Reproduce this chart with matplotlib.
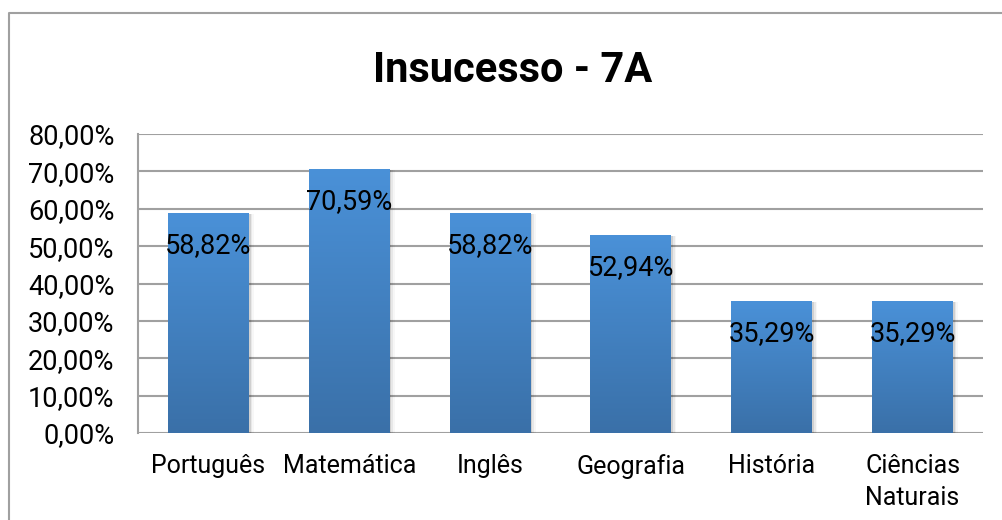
import numpy as np
import matplotlib
matplotlib.use("Agg")
import matplotlib.pyplot as plt
from matplotlib.lines import Line2D
from matplotlib.patches import Rectangle
from matplotlib.ticker import FuncFormatter

# Data
disciplinas = ["Português", "Matemática", "Inglês", "Geografia", "História", "Ciências\nNaturais"]
insucesso = [58.82, 70.59, 58.82, 52.94, 35.29, 35.29]   # %
y_ticks = [0, 10, 20, 30, 40, 50, 60, 70, 80]

plt.rcParams["font.family"] = ["Roboto", "DejaVu Sans"]

fig = plt.figure(figsize=(10.03, 5.20), dpi=100)
ax = fig.add_axes([138 / 1003, 1 - 433 / 520, (983 - 138) / 1003, (433 - 134) / 520])

x = np.arange(len(disciplinas))
bars = ax.bar(x, insucesso, width=0.575, color="none", zorder=3)

# gradient fill + soft shadow
grad = np.linspace(0, 1, 256).reshape(-1, 1)
cmap = matplotlib.colors.LinearSegmentedColormap.from_list("g", ["#3a70a8", "#4a91d8"])
for b in bars:
    x0, w, h = b.get_x(), b.get_width(), b.get_height()
    for k, a in [(0.012, 0.10), (0.024, 0.06), (0.036, 0.03)]:
        ax.add_patch(Rectangle((x0 + k, -0.3), w, h, color="black", alpha=a, lw=0, zorder=2))
    im = ax.imshow(grad, extent=(x0, x0 + w, 0, h), origin="lower", cmap=cmap,
                   aspect="auto", zorder=3)
    im.set_clip_path(b)

for xi, v in zip(x, insucesso):
    ax.annotate(f"{v:.2f}%".replace(".", ","), (xi, v), xytext=(0, -23),
                textcoords="offset points", ha="center", va="center",
                fontsize=19.5, color="black", zorder=5)

ax.set_xlim(-0.5, len(disciplinas) - 0.5)
ax.set_ylim(0, 80)
ax.set_yticks(y_ticks)
ax.yaxis.set_major_formatter(FuncFormatter(lambda v, p: f"{v:.2f}%".replace(".", ",")))
ax.set_xticks(x)
ax.set_xticklabels(disciplinas, linespacing=1.45)
ax.tick_params(axis="y", length=0, pad=17, labelsize=19.5)
ax.tick_params(axis="x", length=0, pad=15, labelsize=18)

ax.grid(axis="y", color="#a0a0a0", lw=1.5, zorder=1)
for s in ["top", "right", "bottom"]:
    ax.spines[s].set_visible(False)
ax.spines["left"].set_color("#a0a0a0")
ax.spines["left"].set_linewidth(1.5)

fig.text(513 / 1003, 1 - 70 / 520, "Insucesso - 7A", ha="center", va="center",
         fontsize=30, fontweight="bold")

# outer chart border (cropped)
fig.add_artist(Line2D([9 / 1003, 9 / 1003, 1.0], [0, 1 - 12.5 / 520, 1 - 12.5 / 520],
                      color="#a0a0a0", lw=1.5, transform=fig.transFigure))

fig.savefig("out.png", dpi=100)
